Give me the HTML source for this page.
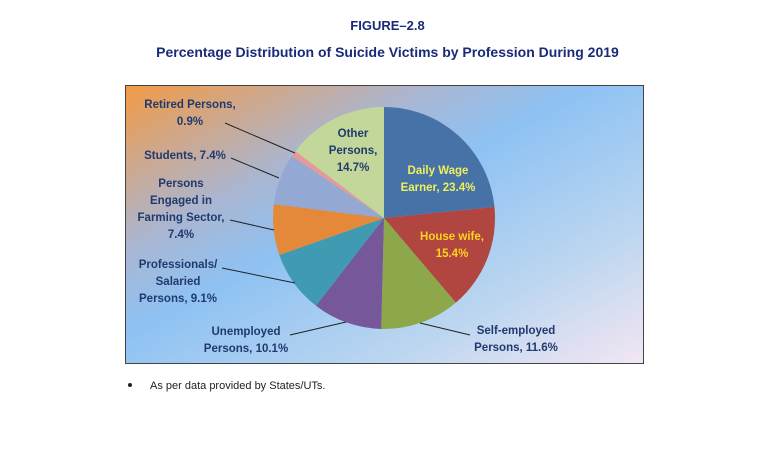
<!DOCTYPE html>
<html><head><meta charset="utf-8"><style>
body{margin:0;width:775px;height:455px;background:#fff;overflow:hidden;font-family:"Liberation Sans",sans-serif}
.t{position:absolute;left:0;width:775px;text-align:center;font-weight:bold;color:#1a2a7a}
</style></head><body>
<div class="t" style="top:18px;font-size:13px">FIGURE–2.8</div>
<div class="t" style="top:44px;font-size:14px">Percentage Distribution of Suicide Victims by Profession During 2019</div>
<svg width="775" height="455" style="position:absolute;left:0;top:0">
<defs>
<linearGradient id="bg" x1="0" y1="0" x2="1" y2="1">
<stop offset="0" stop-color="#f39a45"/><stop offset="0.3" stop-color="#a9b6d3"/><stop offset="0.45" stop-color="#8ec2f3"/><stop offset="0.75" stop-color="#bcd6f0"/><stop offset="1" stop-color="#f3e6f3"/>
</linearGradient>
</defs>
<rect x="125.5" y="85.5" width="518" height="278" fill="url(#bg)" stroke="#444" stroke-width="1"/>
<g id="pie"></g>
<g id="lines" stroke="#222" stroke-width="1" fill="none"></g>
<g id="labels" font-family="Liberation Sans, sans-serif" font-weight="bold" font-size="11.5" text-anchor="middle"></g>
<circle cx="130" cy="385" r="2" fill="#222"/>
<text x="150" y="389" font-size="11" fill="#222">As per data provided by States/UTs.</text>
</svg>
<script>
const categories=["Daily Wage Earner","House wife","Self-employed Persons","Unemployed Persons","Professionals/ Salaried Persons","Persons Engaged in Farming Sector","Students","Retired Persons","Other Persons"];
const values=[23.4,15.4,11.6,10.1,9.1,7.4,7.4,0.9,14.7];
const colors=["#4672a8","#b0463f","#8da84a","#76579a","#3f9ab2","#e4893a","#93a8d2","#e59a9a","#c4d79b"];
const labelLines=[["Daily Wage","Earner, 23.4%"],["House wife,","15.4%"],["Self-employed","Persons, 11.6%"],["Unemployed","Persons, 10.1%"],["Professionals/","Salaried","Persons, 9.1%"],["Persons","Engaged in","Farming Sector,","7.4%"],["Students, 7.4%"],["Retired Persons,","0.9%"],["Other","Persons,","14.7%"]];
const cx=384,cy=218,r=111;
const labelPos=[[438,174,"#eef05a",0],[452,240,"#ffd21f",0],[516,334,"#1f3a6e",1],[246,335,"#1f3a6e",1],[178,268,"#1f3a6e",1],[181,187,"#1f3a6e",1],[185,159,"#1f3a6e",1],[190,108,"#1f3a6e",1],[353,137,"#1f3a6e",0]];
const leaders=[null,null,[[470,335],[420,323]],[[290,335],[346,322]],[[222,268],[295,283]],[[230,220],[274,230]],[[231,158],[279,178]],[[225,123],[295,153]],null];
const ns="http://www.w3.org/2000/svg";
const total=values.reduce((a,b)=>a+b,0);
let a=-Math.PI/2;
const pie=document.getElementById('pie'),lab=document.getElementById('labels'),ln=document.getElementById('lines');
values.forEach((v,i)=>{
 const a2=a+v/total*2*Math.PI;
 const p=document.createElementNS(ns,'path');
 const x1=cx+r*Math.cos(a),y1=cy+r*Math.sin(a),x2=cx+r*Math.cos(a2),y2=cy+r*Math.sin(a2);
 p.setAttribute('d',`M${cx},${cy}L${x1},${y1}A${r},${r} 0 ${a2-a>Math.PI?1:0} 1 ${x2},${y2}Z`);
 p.setAttribute('fill',colors[i]);
 
 
 pie.appendChild(p);
 a=a2;
 const [lx,ly,col]=labelPos[i];
 const t=document.createElementNS(ns,'text');
 t.setAttribute('fill',col);
 
 
 labelLines[i].forEach((s,k)=>{const ts=document.createElementNS(ns,'tspan');ts.setAttribute('x',lx);ts.setAttribute('y',ly+k*17);ts.textContent=s;t.appendChild(ts);});
 lab.appendChild(t);
 if(leaders[i]){const l=document.createElementNS(ns,'polyline');l.setAttribute('points',leaders[i].map(q=>q.join(',')).join(' '));
 
 
 ln.appendChild(l);}
});
</script>
</body></html>
